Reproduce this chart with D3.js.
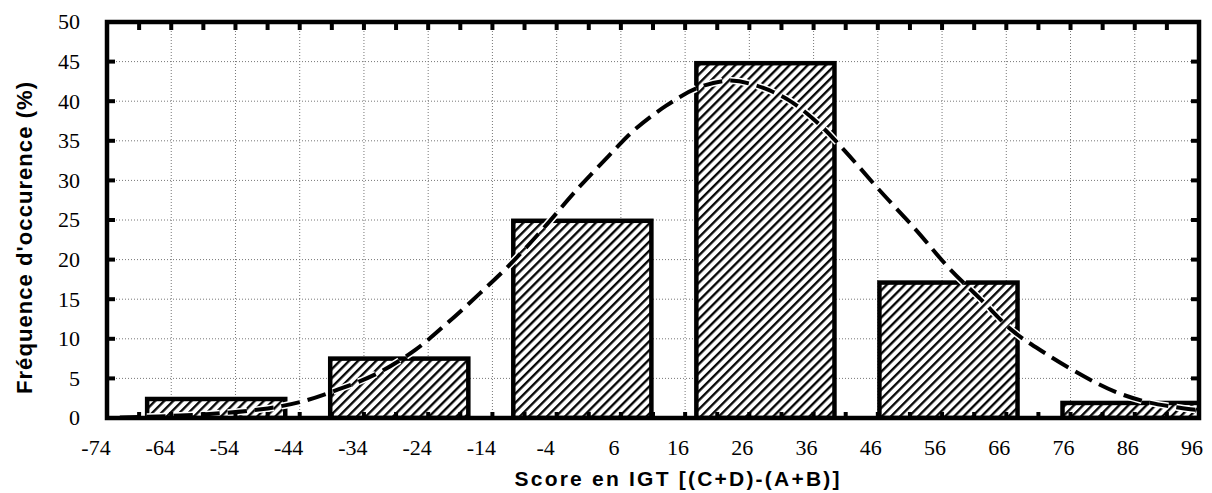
<!DOCTYPE html>
<html lang="fr">
<head>
<meta charset="UTF-8">
<title>Score en IGT</title>
<style>
  body { margin: 0; background: #fff; }
  .tick-label { font-family: "Liberation Serif", "Times New Roman", serif; font-size: 22px; fill: #000; }
  .axis-title { font-family: "Liberation Sans", Arial, sans-serif; font-weight: bold; font-size: 21px; fill: #000; }
</style>
</head>
<body>
<svg id="chart"></svg>
<script src="https://cdn.jsdelivr.net/npm/d3@7"></script>
<script>
// Histogram values
var binCenters = [-57, -28.5, 0, 28.5, 57, 85.5];
var binFreq = [2.4, 7.5, 24.9, 44.8, 17.1, 1.9];
var binWidth = 21.5;

// Fitted curve (dashed)
var curveX = [-72, -66, -58, -50, -44, -38, -32, -26, -21, -16, -11, -6, -1, 4, 8, 13, 18, 23, 27, 32, 37, 41, 46, 52, 57, 62, 67, 72, 78, 83, 88, 93, 96];
var curveY = [0.05, 0.2, 0.5, 1.1, 2.0, 3.6, 5.6, 8.6, 12.0, 15.7, 19.6, 24.0, 28.7, 33.0, 36.3, 39.4, 41.7, 42.6, 42.0, 40.2, 37.0, 33.6, 29.0, 23.7, 19.0, 15.0, 11.0, 8.2, 5.3, 3.3, 2.0, 1.3, 1.0];

// Axis ticks
var xTicks = [-74, -64, -54, -44, -34, -24, -14, -4, 6, 16, 26, 36, 46, 56, 66, 76, 86, 96];
var xMinorTicks = d3.range(-74, 97, 5);
var yTicks = [0, 5, 10, 15, 20, 25, 30, 35, 40, 45, 50];

var width = 1212,
    height = 493;
var margin = { top: 22, right: 13, bottom: 75, left: 107 };
var plotW = width - margin.left - margin.right,
    plotH = height - margin.top - margin.bottom;

var svg = d3.select("#chart")
    .attr("width", width)
    .attr("height", height);

var defs = svg.append("defs");

// diagonal hatching "/"
var pat = defs.append("pattern")
    .attr("id", "hatch")
    .attr("patternUnits", "userSpaceOnUse")
    .attr("width", 6.4)
    .attr("height", 10)
    .attr("patternTransform", "rotate(45)");
pat.append("rect").attr("width", 6.4).attr("height", 10).attr("fill", "#fff");
pat.append("line")
    .attr("x1", 1.2).attr("y1", 0)
    .attr("x2", 1.2).attr("y2", 10)
    .attr("stroke", "#000")
    .attr("stroke-width", 2.3);

defs.append("clipPath").attr("id", "plot-clip")
    .append("rect")
    .attr("width", plotW)
    .attr("height", plotH);

var g = svg.append("g")
    .attr("transform", "translate(" + margin.left + "," + margin.top + ")");

var x = d3.scaleLinear().domain([-74, 96]).range([0, plotW]);
var y = d3.scaleLinear().domain([0, 50]).range([plotH, 0]);

// dotted grid
g.append("g")
    .selectAll("line")
    .data(xTicks.slice(1, -1))
    .enter().append("line")
    .attr("x1", d => x(d)).attr("x2", d => x(d))
    .attr("y1", 0).attr("y2", plotH)
    .attr("stroke", "#777")
    .attr("stroke-width", 1)
    .attr("stroke-dasharray", "1,2");

g.append("g")
    .selectAll("line")
    .data(yTicks.slice(1, -1))
    .enter().append("line")
    .attr("x1", 0).attr("x2", plotW)
    .attr("y1", d => y(d)).attr("y2", d => y(d))
    .attr("stroke", "#777")
    .attr("stroke-width", 1)
    .attr("stroke-dasharray", "1,2");

// bars
var bins = binCenters.map((c, i) => ({ center: c, freq: binFreq[i] }));

g.append("g")
    .attr("clip-path", "url(#plot-clip)")
    .selectAll("rect")
    .data(bins)
    .enter().append("rect")
    .attr("x", d => x(d.center - binWidth / 2))
    .attr("width", d => x(d.center + binWidth / 2) - x(d.center - binWidth / 2))
    .attr("y", d => y(d.freq))
    .attr("height", d => y(0) - y(d.freq))
    .attr("fill", "url(#hatch)")
    .attr("stroke", "#000")
    .attr("stroke-width", 4.5);

// dashed curve
var pts = curveX.map((v, i) => [v, curveY[i]]);
var line = d3.line()
    .x(d => x(d[0]))
    .y(d => y(d[1]))
    .curve(d3.curveCatmullRom);

g.append("path")
    .datum(pts)
    .attr("d", line)
    .attr("fill", "none")
    .attr("stroke", "#fff")
    .attr("stroke-width", 7)
    .attr("stroke-dasharray", "19,8");

g.append("path")
    .datum(pts)
    .attr("d", line)
    .attr("fill", "none")
    .attr("stroke", "#000")
    .attr("stroke-width", 4)
    .attr("stroke-dasharray", "19,8");

// frame
g.append("rect")
    .attr("width", plotW)
    .attr("height", plotH)
    .attr("fill", "none")
    .attr("stroke", "#000")
    .attr("stroke-width", 4.5);

// inward ticks on all sides
var tk = g.append("g").attr("stroke", "#000").attr("stroke-width", 4);
yTicks.forEach(function (d) {
    tk.append("line").attr("x1", 0).attr("x2", 8).attr("y1", y(d)).attr("y2", y(d));
    tk.append("line").attr("x1", plotW).attr("x2", plotW - 8).attr("y1", y(d)).attr("y2", y(d));
});
xMinorTicks.forEach(function (d) {
    tk.append("line").attr("x1", x(d)).attr("x2", x(d)).attr("y1", 0).attr("y2", 8);
    tk.append("line").attr("x1", x(d)).attr("x2", x(d)).attr("y1", plotH).attr("y2", plotH - 6);
});

// tick labels
g.append("g")
    .selectAll("text")
    .data(yTicks)
    .enter().append("text")
    .attr("class", "tick-label")
    .attr("x", -27)
    .attr("y", d => y(d))
    .attr("dy", "0.34em")
    .attr("text-anchor", "end")
    .text(d => d);

g.append("g")
    .selectAll("text")
    .data(xTicks)
    .enter().append("text")
    .attr("class", "tick-label")
    .attr("x", d => x(d))
    .attr("dx", d => d < 0 ? -11 : -7)
    .attr("y", plotH + 37)
    .attr("text-anchor", "middle")
    .text(d => d);

// axis titles
svg.append("text")
    .attr("class", "axis-title")
    .attr("x", 677)
    .attr("y", 486)
    .attr("text-anchor", "middle")
    .attr("textLength", 325)
    .attr("lengthAdjust", "spacing")
    .text("Score en IGT [(C+D)-(A+B)]");

svg.append("text")
    .attr("class", "axis-title")
    .style("font-size", "22px")
    .attr("transform", "translate(32,238) rotate(-90)")
    .attr("text-anchor", "middle")
    .attr("textLength", 312)
    .attr("lengthAdjust", "spacing")
    .text("Fréquence d'occurence (%)");
</script>
</body>
</html>
